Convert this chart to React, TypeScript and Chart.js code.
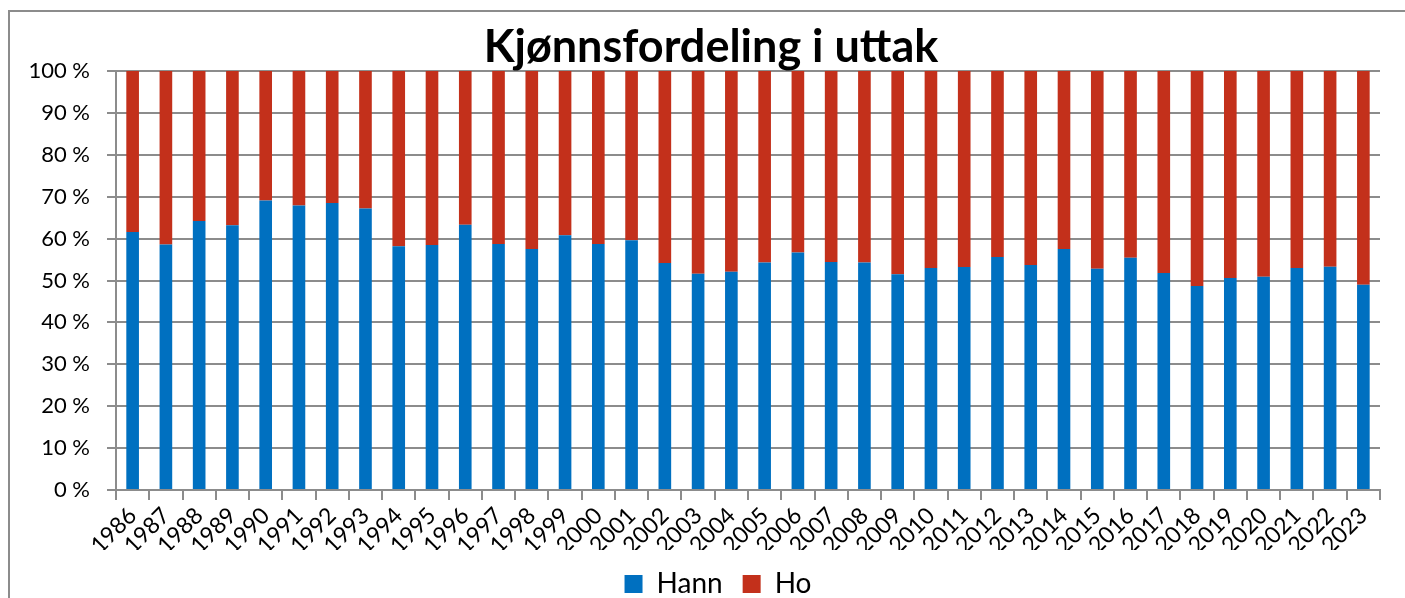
import React, { useEffect, useRef } from "react";
import { Chart, registerables } from "chart.js";

Chart.register(...registerables);

const years = ["1986","1987","1988","1989","1990","1991","1992","1993","1994","1995","1996","1997","1998","1999","2000","2001","2002","2003","2004","2005","2006","2007","2008","2009","2010","2011","2012","2013","2014","2015","2016","2017","2018","2019","2020","2021","2022","2023"];
const hann = [61.6,58.6,64.2,63.2,69.1,67.9,68.5,67.2,58.2,58.5,63.3,58.7,57.5,60.8,58.7,59.6,54.2,51.6,52.1,54.3,56.7,54.4,54.3,51.5,53.0,53.2,55.6,53.7,57.5,52.8,55.4,51.8,48.7,50.6,50.9,53.0,53.3,49.0];
const ho = [38.4,41.4,35.8,36.8,30.9,32.1,31.5,32.8,41.8,41.5,36.7,41.3,42.5,39.2,41.3,40.4,45.8,48.4,47.9,45.7,43.3,45.6,45.7,48.5,47.0,46.8,44.4,46.3,42.5,47.2,44.6,48.2,51.3,49.4,49.1,47.0,46.7,51.0];
const yTickLabels = ["0 %","10 %","20 %","30 %","40 %","50 %","60 %","70 %","80 %","90 %","100 %"];
const seriesNames = ["Hann", "Ho"];
const titleText = "Kjønnsfordeling i uttak";

const W = 1424;
const H = 608;

// centres the title and legend like the reference (Excel centres them on the whole chart box)
const centerBlocks = {
  id: "centerBlocks",
  afterLayout(chart: any) {
    const t = chart.titleBlock;
    if (t) { t.left = 42; t.right = 1380; t.width = t.right - t.left; }
    const l = chart.legend;
    if (l) { l.left = 56; l.right = 1380; l.width = l.right - l.left; }
  },
};

export default function App() {
  const ref = useRef<HTMLCanvasElement | null>(null);
  useEffect(() => {
    if (!ref.current) return;
    const gridColor = "#8c8c8c";
    const chart = new Chart(ref.current, {
      type: "bar",
      data: {
        labels: years,
        datasets: [
          { label: seriesNames[0], data: hann, backgroundColor: "#0070C0", borderWidth: 0 },
          { label: seriesNames[1], data: ho, backgroundColor: "#C3301B", borderWidth: 0 },
        ],
      },
      plugins: [centerBlocks],
      options: {
        animation: false,
        responsive: false,
        devicePixelRatio: 1,
        layout: { padding: { left: 0, right: W - 1380, top: 0, bottom: 0 } },
        datasets: { bar: { barPercentage: 0.38, categoryPercentage: 1.0 } },
        plugins: {
          title: {
            display: true,
            text: titleText,
            color: "#000",
            font: { family: "Lato", size: 45, weight: "bold", lineHeight: 1.0 },
            padding: { top: 25, bottom: 1 },
          },
          legend: {
            display: true,
            position: "bottom",
            labels: {
              color: "#000",
              font: { family: "Lato", size: 28 },
              boxWidth: 18,
              boxHeight: 18,
              padding: 20,
            },
          },
          tooltip: { enabled: false },
        },
        scales: {
          x: {
            stacked: true,
            offset: true,
            grid: { offset: true, drawOnChartArea: false, drawTicks: true, tickLength: 10, color: gridColor, lineWidth: 2 },
            border: { display: true, color: gridColor, width: 2 },
            ticks: {
              autoSkip: false,
              minRotation: 45,
              maxRotation: 45,
              color: "#000",
              font: { family: "Lato", size: 23 },
              padding: 2,
            },
            afterFit: (s: any) => { s.height = 60; },
          },
          y: {
            stacked: true,
            min: 0,
            max: 100,
            grid: { color: gridColor, lineWidth: 2, drawTicks: true, tickLength: 9 },
            border: { display: true, color: gridColor, width: 2 },
            ticks: {
              stepSize: 10,
              color: "#000",
              font: { family: "Lato", size: 22 },
              padding: 17,
              callback: (v: any) => yTickLabels[Math.round(Number(v) / 10)],
            },
            afterFit: (s: any) => { s.width = 116; },
          },
        },
      },
    });
    return () => chart.destroy();
  }, []);

  return (
    <div style={{ position: "fixed", left: 0, top: 0, width: 1405, height: 598, overflow: "hidden", background: "#fff" }}>
      <div style={{ position: "absolute", left: 8, top: 10, width: 1500, height: 700, border: "2px solid #8c8c8c", boxSizing: "border-box" }} />
      <canvas ref={ref} width={W} height={H} style={{ position: "absolute", left: 0, top: 0, width: W, height: H }} />
    </div>
  );
}
